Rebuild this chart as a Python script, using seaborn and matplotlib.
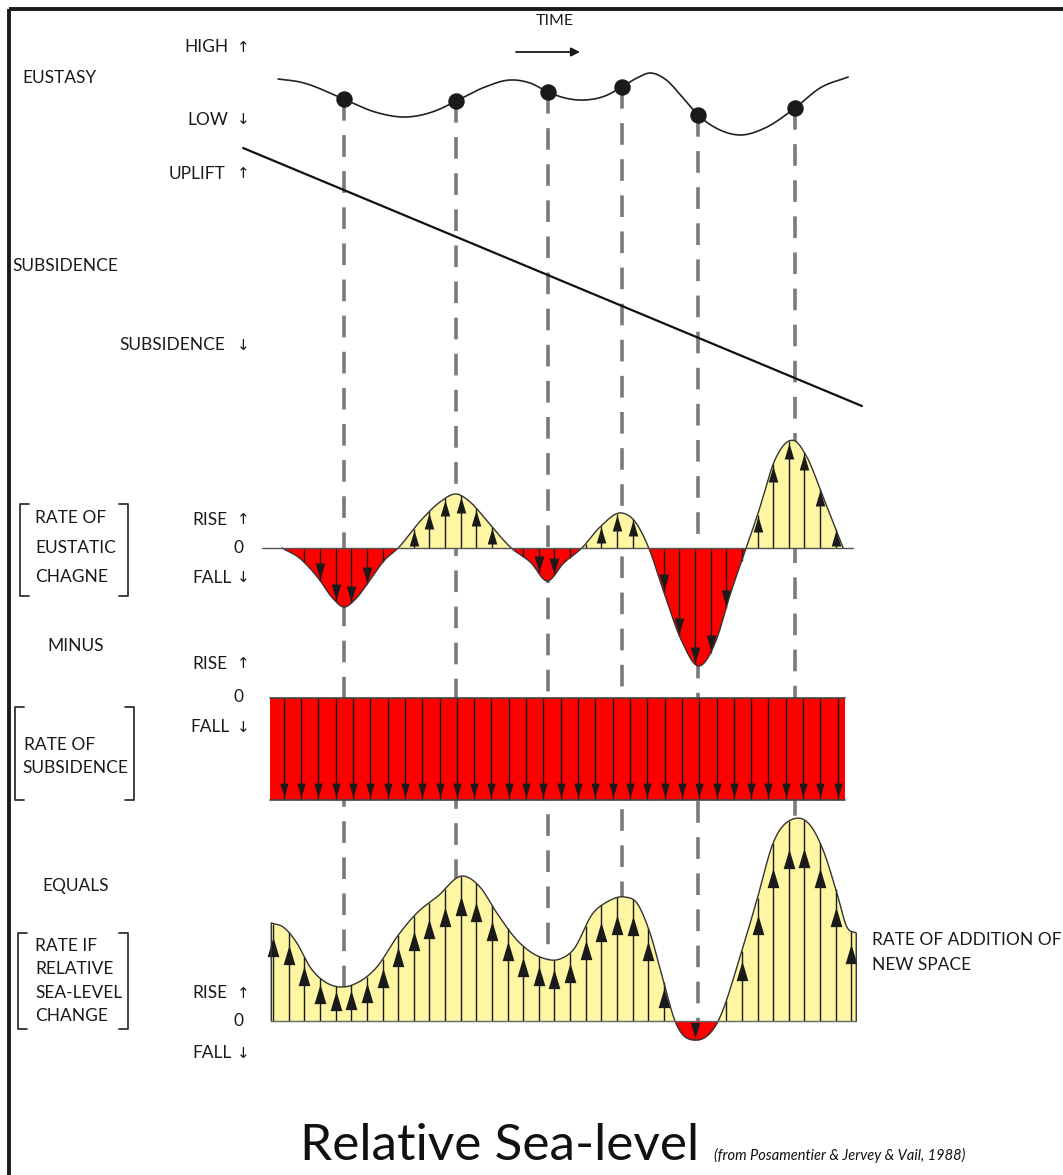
import numpy as np
import matplotlib
matplotlib.use('Agg')
import matplotlib.pyplot as plt
import seaborn as sns
from matplotlib.path import Path
from matplotlib.patches import Rectangle

sns.set_theme(style='white')
plt.rcParams['font.family'] = ['Lato', 'DejaVu Sans']

W, H = 1063, 1175

# ---------------- data (time runs 0..100 left to right) ----------------
# eustatic sea level (arbitrary units)
eustasy_t = [6.1, 9.6, 16.6, 21.6, 26.7, 31.2, 34.6, 39.2, 43.2, 46.4,
             49.3, 52.0, 55.2, 58.4, 61.1, 63.5, 65.6, 68.0, 70.9, 73.3,
             76.8, 80.0, 84.0, 88.8, 92.8, 97.3]
eustasy_lvl = [21, 18, 1, -12, -17, -11, -1, 13, 20, 17,
               8, 2, 0, 4, 13, 22, 27, 21, 2, -15,
               -30, -35, -28, -8, 12, 23]
event_t = [16.6, 34.6, 49.3, 61.1, 73.3, 88.8]

# tectonic subsidence (linear)
tecton_t = [0.5, 99.5]
tecton_z = [-8, -266]

# rate of eustatic change
rate_t = [6.7, 9.5, 12.5, 14.8, 16.6, 18.5, 20.8, 23.0, 25.3, 29.0, 32.0,
          34.6, 37.0, 39.4, 43.4, 46.6, 49.1, 51.8, 54.7, 57.6, 61.1,
          63.0, 65.4, 67.7, 70.6, 73.4, 76.2, 78.4, 81.0, 82.9, 85.8,
          88.8, 90.7, 93.3, 96.5]
rate_v = [0, -1.0, -3.0, -5.0, -5.9, -5.1, -3.2, -1.3, 0, 2.8, 4.6,
          5.4, 4.5, 2.8, 0, -1.5, -3.3, -1.5, 0, 2.1, 3.5,
          2.8, 0, -4.2, -9.2, -11.8, -9.2, -4.7, 0, 3.5, 9.1,
          10.7, 9.1, 5.1, 0]
rate_span = [3.5, 98.0]

# rate of subsidence (constant)
subs_t = [4.8, 96.8]
subs_rate = [10.2, 10.2]

# rate of relative sea-level change
rel_t = [5.0, 6.9, 9.1, 11.2, 13.9, 16.5, 18.7, 21.9, 25.1, 28.3,
         31.5, 35.7, 38.4, 41.1, 44.3, 48.0, 51.2, 53.3, 56.5, 58.7,
         61.6, 63.5, 65.6, 67.7, 69.6, 73.1, 76.5, 80.0, 82.7, 85.3,
         88.5, 91.2, 93.3, 95.5, 97.1, 98.6]
rel_v = [9.8, 9.4, 7.8, 5.4, 3.8, 3.4, 3.8, 5.4, 8.4, 10.8,
         12.4, 14.5, 13.4, 10.8, 8.1, 6.4, 6.2, 7.1, 10.8, 11.9,
         12.4, 11.8, 8.8, 4.1, 0, -1.9, 0, 6.4, 12.1, 17.8,
         20.2, 19.6, 17.1, 12.8, 9.4, 8.8]

YELLOW = '#FEF6A2'
RED = '#FF0000'


def smooth(xk, yk, x):
    # cubic Hermite through the read-off points (Catmull-Rom style tangents)
    xk = np.asarray(xk, float)
    yk = np.asarray(yk, float)
    x = np.asarray(x, float)
    m = np.gradient(yk, xk)
    i = np.clip(np.searchsorted(xk, x) - 1, 0, len(xk) - 2)
    hh = xk[i + 1] - xk[i]
    s = (x - xk[i]) / hh
    return ((2 * s**3 - 3 * s**2 + 1) * yk[i] + (s**3 - 2 * s**2 + s) * hh * m[i]
            + (-2 * s**3 + 3 * s**2) * yk[i + 1] + (s**3 - s**2) * hh * m[i + 1])


UP = Path([(0, 0), (-0.3, -1), (0.3, -1), (0, 0)], closed=True)
DOWN = Path([(0, 0), (-0.3, 1), (0.3, 1), (0, 0)], closed=True)

fig = plt.figure(figsize=(W / 100, H / 100), dpi=100)
fig.patch.set_facecolor('white')
T_LEFT, T_RIGHT = -240 / 6.25, (W - 240) / 6.25


def panel(top, bottom, ylo, yhi):
    ax = fig.add_axes([0, 1 - bottom / H, 1, (bottom - top) / H])
    ax.set_xlim(T_LEFT, T_RIGHT)
    ax.set_ylim(ylo, yhi)
    ax.axis('off')
    ax.patch.set_alpha(0)
    return ax


# background axes for the dashed time lines
ax_bg = panel(0, H, H, 0)

# eustasy curve
ax_eu = panel(60, 140, -40, 40)
t_d = np.linspace(eustasy_t[0], eustasy_t[-1], 500)
sns.lineplot(x=t_d, y=smooth(eustasy_t, eustasy_lvl, t_d), ax=ax_eu, color='#222', lw=1.2)
ev_e = smooth(eustasy_t, eustasy_lvl, event_t)
ax_eu.scatter(event_t, ev_e, s=140, color='k', zorder=5, linewidths=0)

# tectonic subsidence
ax_tc = panel(140, 420, -280, 0)
sns.lineplot(x=tecton_t, y=tecton_z, ax=ax_tc, color='#111', lw=1.6)

# rate of eustatic change
ax_rt = panel(420, 680, -13.2, 12.8)
t_d = np.linspace(rate_t[0], rate_t[-1], 900)
v_d = smooth(rate_t, rate_v, t_d)
ax_rt.fill_between(t_d, v_d, 0, where=v_d >= 0, interpolate=True, color=YELLOW, lw=0, zorder=1)
ax_rt.fill_between(t_d, v_d, 0, where=v_d <= 0, interpolate=True, color=RED, lw=0, zorder=1)
arrow_t = np.arange(5.3, 98.0, 2.5)
inside = (arrow_t > rate_t[0]) & (arrow_t < rate_t[-1])
av = np.where(inside, smooth(rate_t, rate_v, arrow_t), 0)
keep = np.abs(av) > 0.4
ax_rt.vlines(arrow_t[keep], 0, av[keep], colors='#1a1a1a', lw=1, zorder=2)
up = av > 1.8
dn = av < -1.8
ax_rt.scatter(arrow_t[up], av[up] - 0.15, marker=UP, s=530, color='k', linewidths=0, zorder=3)
ax_rt.scatter(arrow_t[dn], av[dn] + 0.15, marker=DOWN, s=530, color='k', linewidths=0, zorder=3)
ax_rt.plot(t_d, v_d, color='#333', lw=1, zorder=4)
ax_rt.plot(rate_span, [0, 0], color='#555', lw=1, zorder=4)

# rate of subsidence
ax_sb = panel(680, 820, -12.2, 1.8)
sr = -np.asarray(subs_rate)
ax_sb.fill_between(subs_t, 0, sr, color=RED, lw=0, zorder=1)
ax_sb.plot(subs_t, [0, 0], color='#444', lw=1.2, zorder=4)
ax_sb.plot(subs_t, sr, color='#444', lw=1.2, zorder=4)
sub_arrow_t = np.arange(7.0, 96.5, 2.77)
ax_sb.vlines(sub_arrow_t, 0, sr[0], colors='#111', lw=1, zorder=2)
ax_sb.scatter(sub_arrow_t, np.full(len(sub_arrow_t), sr[0] + 0.3), marker=DOWN, s=400,
              color='k', linewidths=0, zorder=3)

# rate of relative sea-level change
ax_rl = panel(800, 1060, -3.9, 22.1)
t_d = np.linspace(rel_t[0], rel_t[-1], 900)
v_d = smooth(rel_t, rel_v, t_d)
ax_rl.fill_between(t_d, v_d, 0, where=v_d >= 0, interpolate=True, color=YELLOW, lw=0, zorder=1)
ax_rl.fill_between(t_d, v_d, 0, where=v_d <= 0, interpolate=True, color=RED, lw=0, zorder=1)
rv = smooth(rel_t, rel_v, arrow_t)
keep = rv > 0.4
ax_rl.vlines(arrow_t[keep], 0, rv[keep], colors='#1a1a1a', lw=1, zorder=2)
up = rv > 2.0
dn = rv < -1.2
ax_rl.scatter(arrow_t[up], rv[up] * 0.86, marker=UP, s=800, color='k', linewidths=0, zorder=3)
ax_rl.scatter(arrow_t[dn], rv[dn] + 0.2, marker=DOWN, s=500, color='k', linewidths=0, zorder=3)
ax_rl.plot(np.r_[rel_t[0], t_d, rel_t[-1]], np.r_[0, v_d, 0], color='#333', lw=1, zorder=4)
ax_rl.plot([rel_t[0], rel_t[-1]], [0, 0], color='#666', lw=1, zorder=4)

# dashed lines from the eustasy dots down to the last baseline
fig.canvas.draw()
inv = ax_bg.transData.inverted()
top_rows = inv.transform(ax_eu.transData.transform(np.column_stack([event_t, ev_e])))[:, 1]
base_row = inv.transform(ax_rl.transData.transform([[0, 0]]))[0, 1]
ax_bg.vlines(event_t, top_rows, base_row, colors='#7a7a7a', lw=2.6,
             linestyles=(0, (6, 4)), zorder=0)

# ---------------- annotations in pixel space ----------------
ax_px = fig.add_axes([0, 0, 1, 1])
ax_px.set_xlim(0, W)
ax_px.set_ylim(H, 0)
ax_px.axis('off')
ax_px.patch.set_alpha(0)


def txt(x, y, s, ha='left', size=12.5, **kw):
    ax_px.text(x, y, s, ha=ha, va='center', fontsize=size, color='#1a1a1a', **kw)


def axis_label(y, word, arrow=None, x=228):
    txt(x, y, word, ha='right')
    if arrow:
        ax_px.text(243, y, arrow, ha='center', va='center', fontsize=11,
                   family=['DejaVu Sans'], color='#1a1a1a')


def bracket(x0, x1, y0, y1):
    ax_px.plot([x0 + 9, x0, x0, x0 + 9], [y0, y0, y1, y1], color='#333', lw=1.3)
    ax_px.plot([x1 - 9, x1, x1, x1 - 9], [y0, y0, y1, y1], color='#333', lw=1.3)


ax_px.add_patch(Rectangle((8.5, 8.5), W, H, fill=False, lw=2.8, edgecolor='k'))

txt(555, 21, 'TIME', ha='center', size=11.5)
ax_px.annotate('', xy=(580, 52), xytext=(516, 52),
               arrowprops=dict(arrowstyle='-|>', color='k', lw=1.3, mutation_scale=13,
                               shrinkA=0, shrinkB=0))

txt(22, 78, 'EUSTASY')
axis_label(47, 'HIGH', '↑')
axis_label(120, 'LOW', '↓')
axis_label(174, 'UPLIFT', '↑', x=225)
txt(12, 266, 'SUBSIDENCE')
axis_label(345, 'SUBSIDENCE', '↓', x=225)

axis_label(520, 'RISE', '↑')
axis_label(548, '0', x=243)
axis_label(578, 'FALL', '↓', x=232)
bracket(20, 128, 504, 596)
for y, s in zip([518, 548, 577], ['RATE OF', 'EUSTATIC', 'CHAGNE']):
    txt(35, y, s)

txt(76, 646, 'MINUS', ha='center')
axis_label(664, 'RISE', '↑')
axis_label(697, '0', x=243)
axis_label(727, 'FALL', '↓', x=230)
bracket(15, 134, 707, 800)
txt(24, 745, 'RATE OF')
txt(22, 768, 'SUBSIDENCE')

txt(76, 886, 'EQUALS', ha='center')
bracket(18, 128, 933, 1029)
for y, s in zip([946, 969, 993, 1016], ['RATE IF', 'RELATIVE', 'SEA-LEVEL', 'CHANGE']):
    txt(35, y, s)
axis_label(993, 'RISE', '↑')
axis_label(1021, '0', x=243)
axis_label(1053, 'FALL', '↓', x=232)

txt(872, 940, 'RATE OF ADDITION OF')
txt(872, 965, 'NEW SPACE')

ax_px.text(300, 1160, 'Relative Sea-level', ha='left', va='baseline', fontsize=37, color='#111')
ax_px.text(714, 1160, '(from Posamentier & Jervey & Vail, 1988)', ha='left', va='baseline',
           fontsize=10.5, style='italic', color='#111')

fig.savefig('out.png', dpi=100, facecolor='white')
